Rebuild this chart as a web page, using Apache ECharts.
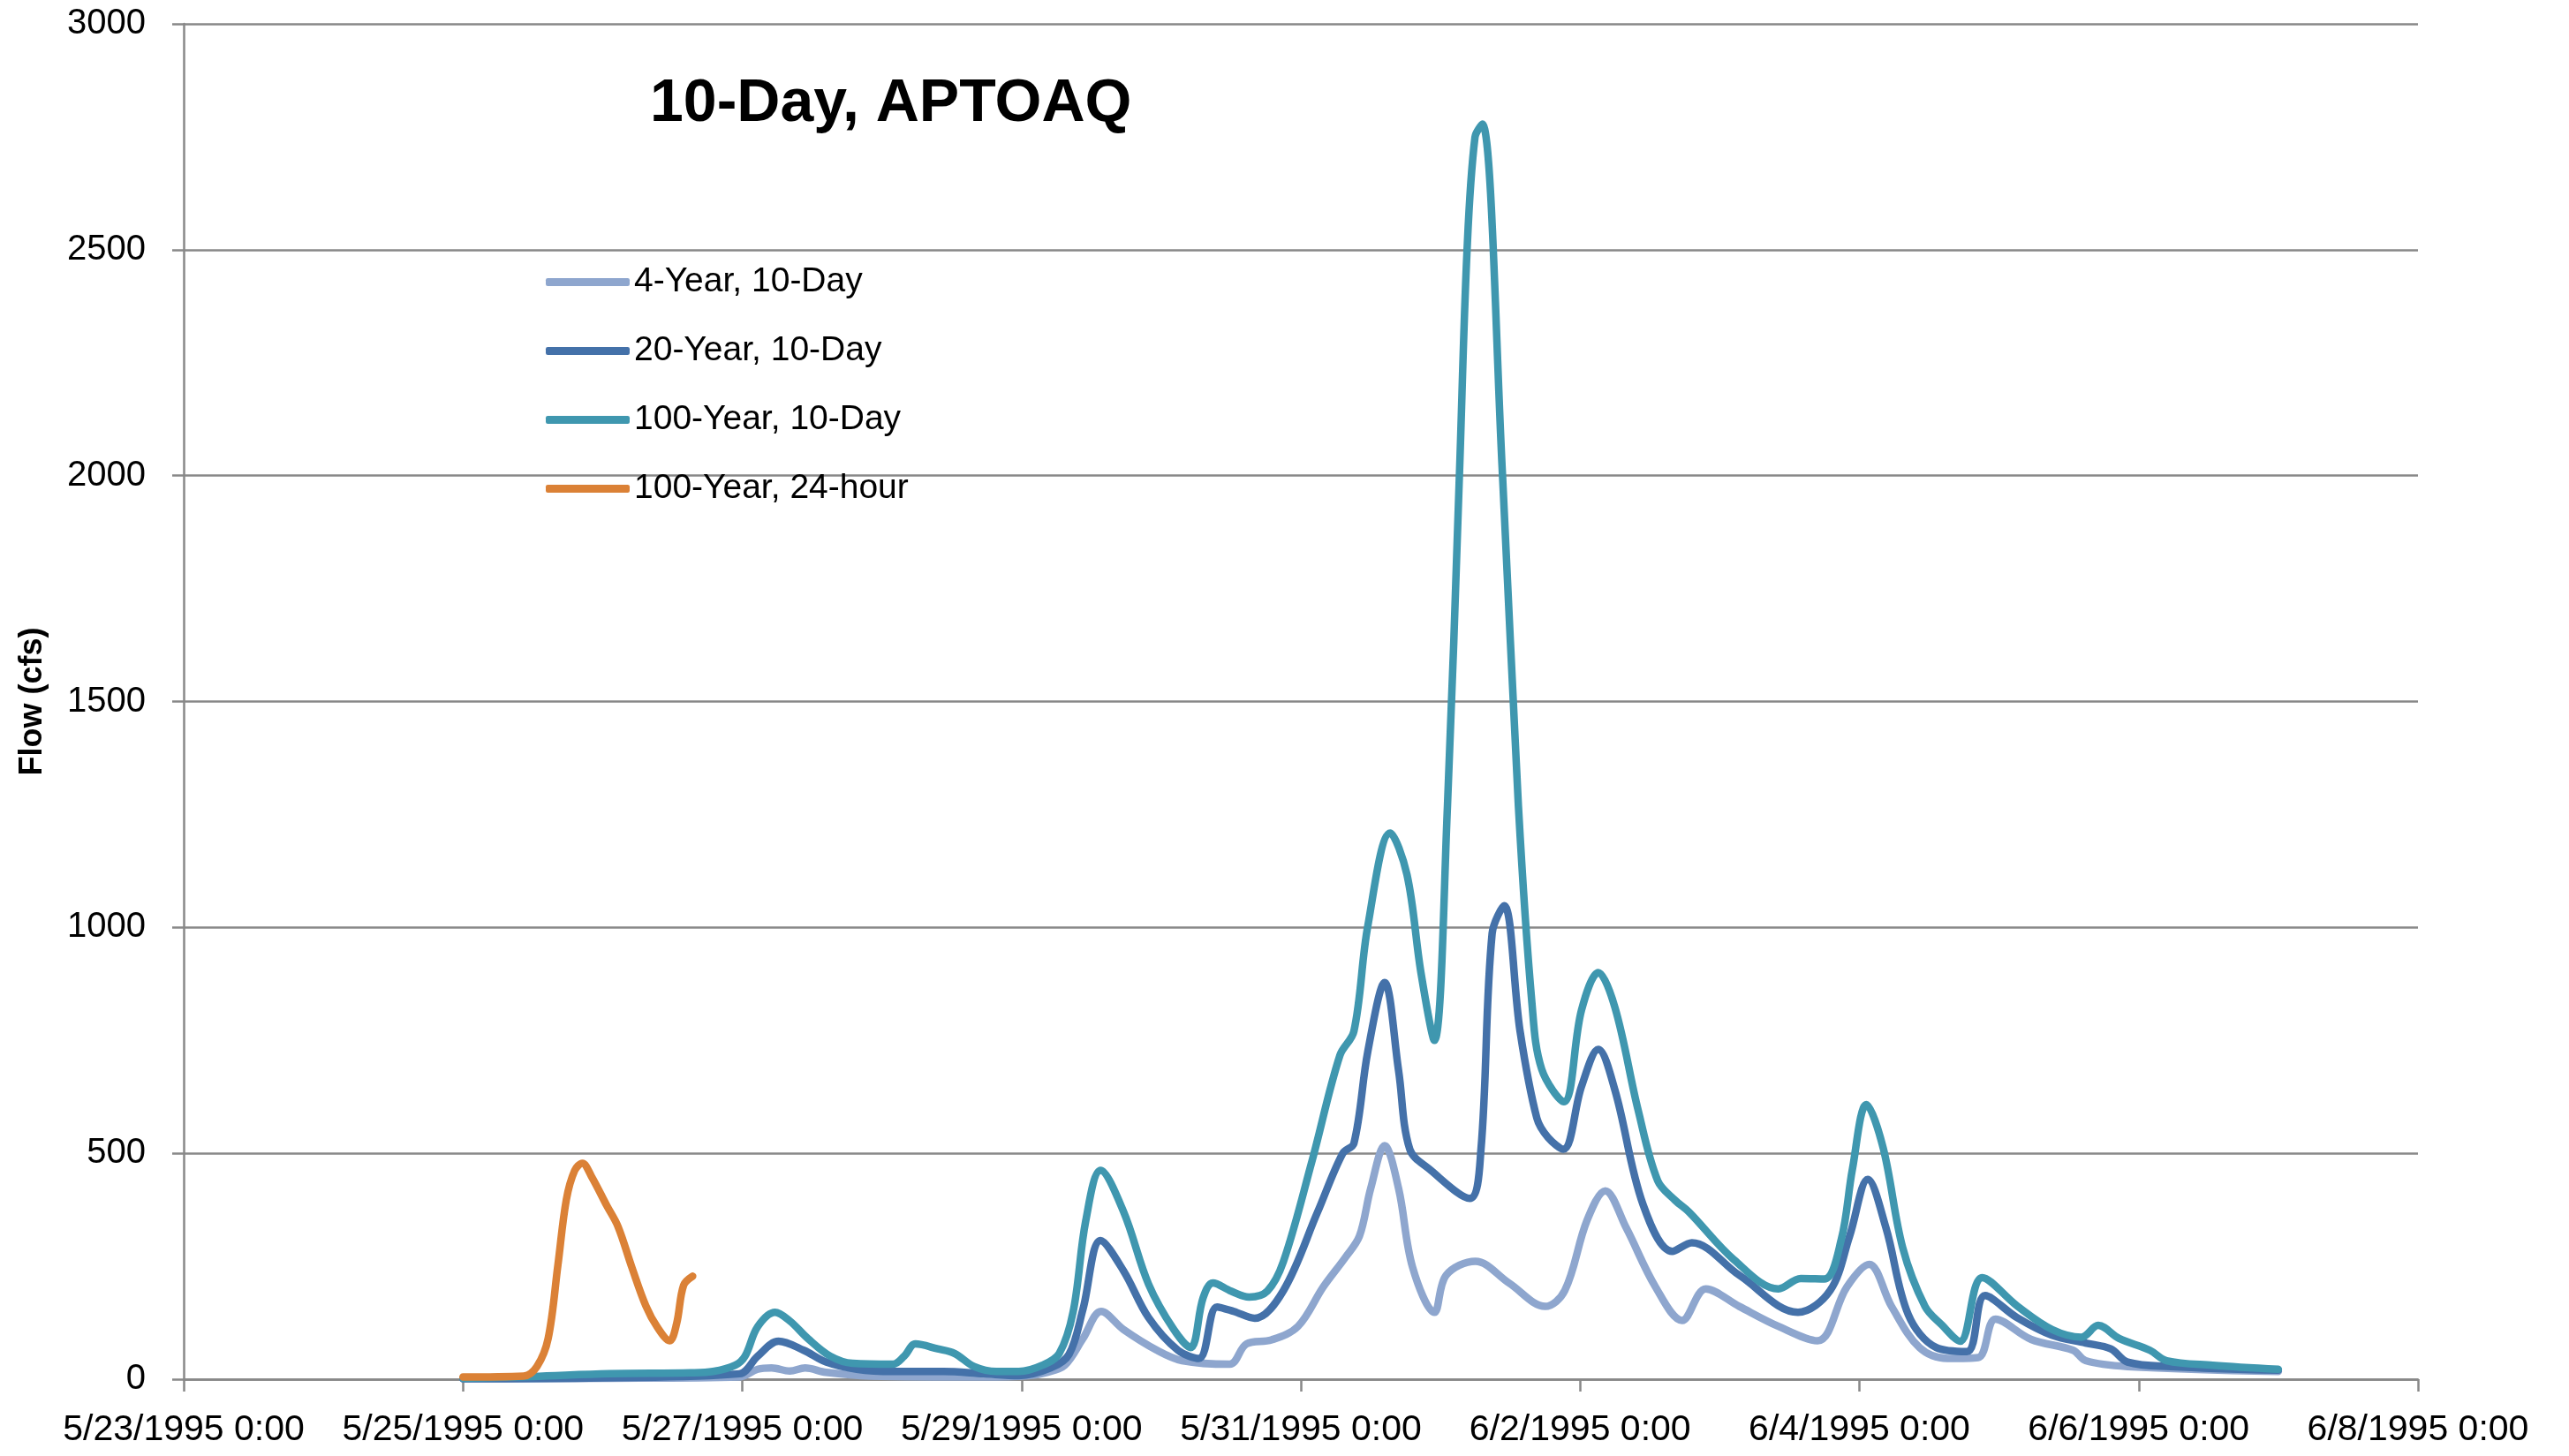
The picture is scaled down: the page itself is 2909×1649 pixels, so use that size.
<!DOCTYPE html>
<html>
<head>
<meta charset="utf-8">
<script src="https://cdn.jsdelivr.net/npm/echarts@6/dist/echarts.min.js"></script>
<style>
html,body{margin:0;padding:0;background:#fff;}
#chart{width:2909px;height:1649px;}
</style>
</head>
<body>
<div id="chart"></div>
<script>
// x values: days since 5/23/1995 0:00
const chartTitle = '10-Day, APTOAQ';
const yAxisName = 'Flow (cfs)';
const seriesNames = ['4-Year, 10-Day', '20-Year, 10-Day', '100-Year, 10-Day', '100-Year, 24-hour'];
const xTickLabels = ['5/23/1995 0:00','5/25/1995 0:00','5/27/1995 0:00','5/29/1995 0:00','5/31/1995 0:00','6/2/1995 0:00','6/4/1995 0:00','6/6/1995 0:00','6/8/1995 0:00'];
const yTicks = [0, 500, 1000, 1500, 2000, 2500, 3000];

const flow4yr10d = [
  [2.0,1],[3.0,2],[3.98,5],[4.11,22],[4.21,25],[4.34,18],[4.45,25],[4.60,15],[4.92,7],[5.73,5],
  [6.05,8],[6.18,15],[6.31,31],[6.44,90],[6.57,150],[6.73,110],[6.97,64],[7.15,41],[7.49,33],[7.61,78],
  [7.79,87],[7.98,117],[8.16,204],[8.32,270],[8.42,317],[8.50,422],[8.60,517],[8.70,422],[8.80,248],[8.956,148],
  [9.04,230],[9.25,261],[9.49,213],[9.75,161],[9.89,196],[10.05,352],[10.18,417],[10.33,335],[10.54,204],[10.73,130],
  [10.90,200],[11.14,161],[11.42,117],[11.70,85],[11.91,204],[12.07,254],[12.23,161],[12.43,70],[12.63,46],[12.85,48],
  [12.975,133],[13.23,88],[13.53,64],[13.62,41],[13.92,28],[15.0,17]
];
const flow20yr10d = [
  [2.0,1],[3.0,3],[3.98,12],[4.11,51],[4.26,84],[4.44,64],[4.60,38],[4.82,22],[5.08,17],[5.44,17],
  [5.73,12],[5.98,8],[6.21,25],[6.34,55],[6.44,155],[6.566,307],[6.73,240],[6.91,136],[7.12,64],[7.27,46],
  [7.40,160],[7.52,150],[7.67,135],[7.875,196],[8.12,370],[8.30,500],[8.38,522],[8.48,726],[8.60,878],[8.70,683],
  [8.78,509],[8.92,465],[9.21,400],[9.29,509],[9.37,987],[9.456,1048],[9.57,770],[9.69,578],[9.77,535],[9.88,509],
  [10.01,648],[10.13,730],[10.25,639],[10.45,387],[10.66,283],[10.80,302],[11.14,230],[11.56,148],[11.79,196],[11.93,317],
  [12.06,442],[12.19,335],[12.35,143],[12.55,70],[12.77,61],[12.90,185],[13.13,136],[13.38,97],[13.62,80],[13.80,67],
  [13.92,38],[14.23,28],[15.0,20]
];
const flow100yr10d = [
  [2.0,2],[2.5,6],[3.05,12],[3.63,14],[3.79,17],[3.95,31],[4.02,51],[4.11,116],[4.235,148],[4.34,129],
  [4.47,90],[4.63,51],[4.79,35],[5.08,33],[5.16,51],[5.24,78],[5.40,67],[5.52,57],[5.66,28],[5.82,17],
  [5.98,17],[6.15,31],[6.27,57],[6.37,150],[6.46,351],[6.566,462],[6.73,371],[6.91,210],[7.09,110],[7.21,70],
  [7.30,180],[7.37,213],[7.50,195],[7.63,182],[7.76,195],[7.875,260],[8.08,483],[8.28,717],[8.38,770],[8.48,1004],
  [8.64,1209],[8.76,1117],[8.86,900],[8.956,750],[9.05,1269],[9.135,1996],[9.19,2497],[9.247,2749],[9.30,2778],[9.445,1996],
  [9.558,1269],[9.655,832],[9.725,686],[9.883,614],[10.01,817],[10.13,900],[10.25,822],[10.415,596],[10.556,439],[10.68,396],
  [10.78,370],[11.10,265],[11.42,200],[11.58,223],[11.75,222],[11.87,309],[11.95,465],[12.05,608],[12.17,512],[12.31,291],
  [12.47,161],[12.59,120],[12.72,84],[12.88,225],[13.13,162],[13.38,110],[13.59,93],[13.71,119],[13.86,90],[14.08,64],
  [14.20,41],[14.53,31],[15.0,22]
];
const flow100yr24h = [
  [2.0,5],[2.435,7],[2.53,28],[2.61,90],[2.68,253],[2.74,397],[2.80,462],[2.855,478],[2.92,449],[3.03,384],
  [3.11,338],[3.21,247],[3.31,162],[3.39,116],[3.48,85],[3.53,123],[3.58,208],[3.645,228]
];

const seriesColors = ['#8EA6CE', '#4471A9', '#3F97AF', '#DB8136'];
const seriesData = [flow4yr10d, flow20yr10d, flow100yr10d, flow100yr24h];

const gray = '#888888';
const FONT = "'Liberation Sans', Arial, sans-serif";

const chart = echarts.init(document.getElementById('chart'));
chart.setOption({
  backgroundColor: '#ffffff',
  animation: false,
  title: {
    text: chartTitle,
    left: 736, top: 84, padding: 0,
    textStyle: { fontFamily: FONT, fontSize: 68, fontWeight: 'bold', color: '#000' }
  },
  legend: {
    orient: 'vertical',
    left: 618, top: 300, padding: 0,
    itemWidth: 95, itemHeight: 9, itemGap: 39,
    icon: 'roundRect',
    textStyle: { fontFamily: FONT, fontSize: 39, lineHeight: 39, color: '#000' },
    data: seriesNames
  },
  grid: { left: 208, right: 171, top: 27, bottom: 87, containLabel: false },
  xAxis: {
    type: 'value', min: 0, max: 16, interval: 2,
    axisLine: { show: true, lineStyle: { color: gray, width: 2.5 } },
    axisTick: { show: true, length: 14, lineStyle: { color: gray, width: 2.5 } },
    splitLine: { show: false },
    axisLabel: {
      margin: 37, fontFamily: FONT, fontSize: 41, color: '#000',
      formatter: v => xTickLabels[Math.round(v / 2)] || ''
    }
  },
  yAxis: {
    type: 'value', min: yTicks[0], max: yTicks[yTicks.length - 1], interval: 500,
    name: yAxisName, nameLocation: 'middle', nameGap: 153,
    nameTextStyle: { fontFamily: FONT, fontSize: 36, fontWeight: 'bold', color: '#000' },
    axisLine: { show: true, lineStyle: { color: gray, width: 2.5 } },
    axisTick: { show: true, length: 13, lineStyle: { color: gray, width: 2.5 } },
    splitLine: { show: true, lineStyle: { color: gray, width: 2.5 } },
    axisLabel: { margin: 43, fontFamily: FONT, fontSize: 40, color: '#000', formatter: v => String(v) }
  },
  series: seriesNames.map((name, i) => ({
    name: name,
    type: 'line',
    data: seriesData[i],
    smooth: 0.35,
    showSymbol: false,
    symbol: 'none',
    color: seriesColors[i],
    lineStyle: { color: seriesColors[i], width: 8.5, cap: 'round', join: 'round' },
    z: 2 + i
  }))
});
</script>
</body>
</html>
